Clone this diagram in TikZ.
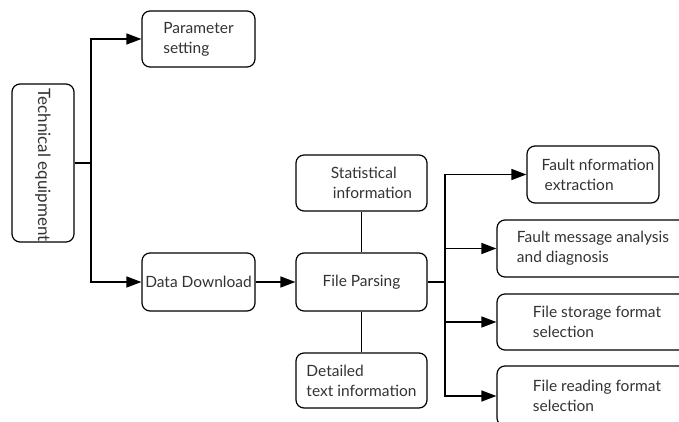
\documentclass[tikz,border=0pt]{standalone}
\usepackage{fontspec}
\setmainfont{Lato}
\usetikzlibrary{arrows.meta}
\definecolor{txt}{HTML}{333333}
\begin{document}
\begin{tikzpicture}[x=1pt,y=-1pt,
  box/.style={draw=black, line width=1.2pt, rounded corners=8pt, fill=white,
    text=txt, align=left, inner sep=0pt,
    font=\fontsize{15.5}{20}\selectfont},
  link/.style={draw=black, line width=1.3pt},
  arr/.style={link, -{Triangle[length=15pt,width=11pt]}}]
\useasboundingbox (0,0) rectangle (679,422);
\clip (0,0) rectangle (679,422);
% nodes
\node[box, minimum width=62pt, minimum height=158pt] (tech) at (43,163)
  {\rotatebox[origin=c]{-90}{\fontsize{17}{20}\selectfont\hspace*{4pt}Technical equipment}};
\node[box, minimum width=113pt, minimum height=56pt] (param) at (198.5,39) {Parameter\\setting};
\node[box, minimum width=113pt, minimum height=58pt] (dd) at (198.5,282) {Data Download};
\node[box, minimum width=131pt, minimum height=58pt] (fp) at (361.5,282) {File Parsing};
\node[box, minimum width=131pt, minimum height=56pt] (stat) at (361.5,183) {\hspace*{20pt}Statistical\\\hspace*{22pt}information};
\node[box, minimum width=131pt, minimum height=55pt] (det) at (361.5,380.5) {Detailed\\text information};
\node[box, minimum width=132pt, minimum height=57pt] (f1) at (593,174.5) {\hspace*{10pt}Fault nformation\\\hspace*{13pt}extraction};
\node[box, minimum width=192pt, minimum height=57pt] (f2) at (593,248.5) {Fault message analysis\\and diagnosis};
\node[box, minimum width=200pt, minimum height=56pt] (f3) at (597,322) {File storage format\\selection};
\node[box, minimum width=200pt, minimum height=60pt] (f4) at (597,396) {File reading format\\selection};
% junctions
\coordinate (j1) at (91,163);
\coordinate (j2) at (445,282);
% connectors
\draw[link] (tech.east) -- (j1);
\draw[arr] (j1) |- (param.west);
\draw[arr] (j1) |- (dd.west);
\draw[arr] (dd.east) -- (fp.west);
\draw[link] (stat.south) -- (fp.north);
\draw[link] (fp.south) -- (det.north);
\draw[link] (fp.east) -- (j2);
\draw[arr] (j2) |- (f1.west);
\draw[arr] (j2) |- (f2.west);
\draw[arr] (j2) |- (f3.west);
\draw[arr] (j2) |- (f4.west);
\end{tikzpicture}
\end{document}
